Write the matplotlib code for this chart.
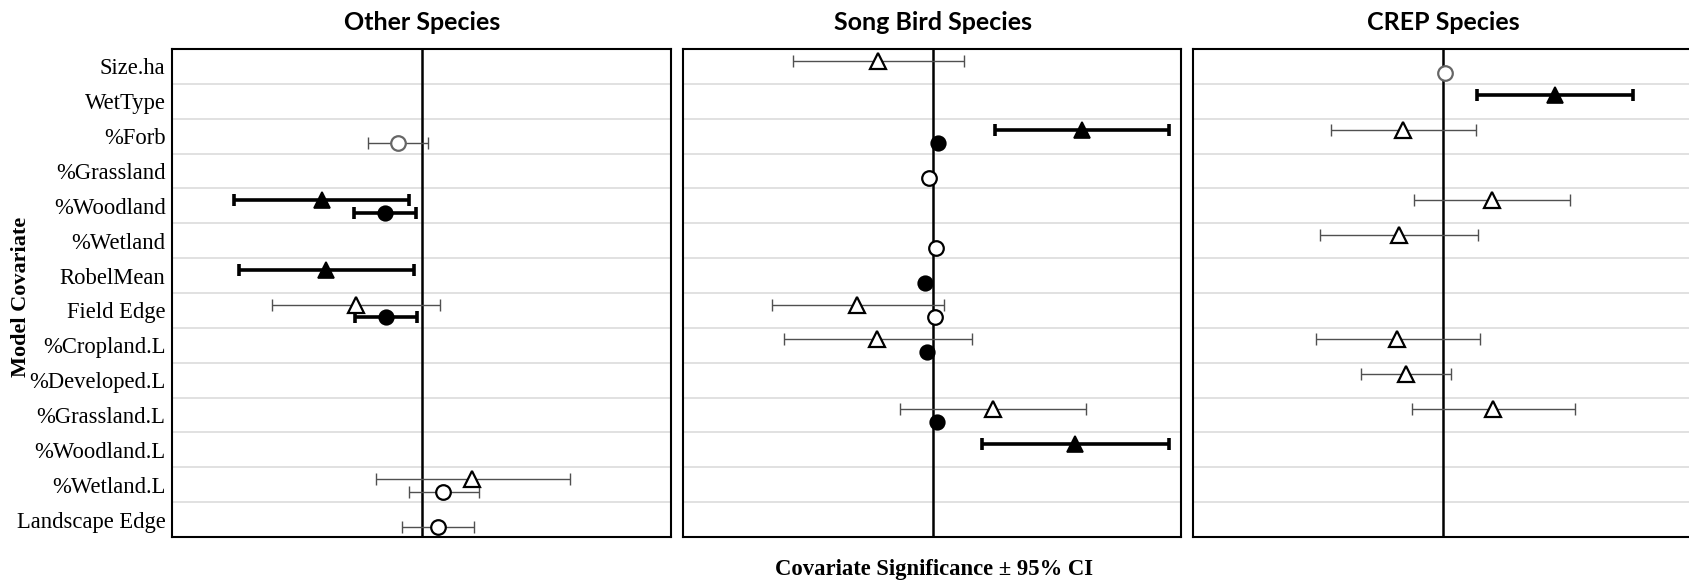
import matplotlib

matplotlib.use("Agg")
import matplotlib.pyplot as plt

covariates = [
    "Size.ha", "WetType", "%Forb", "%Grassland", "%Woodland", "%Wetland",
    "RobelMean", "Field Edge", "%Cropland.L", "%Developed.L", "%Grassland.L",
    "%Woodland.L", "%Wetland.L", "Landscape Edge",
]

# Other species
other_tri_rows = ["%Woodland", "RobelMean", "Field Edge", "%Wetland.L"]
other_tri_est = [-100, -96, -66, 50]
other_tri_lo = [-188, -183, -150, -46]
other_tri_hi = [-13, -8, 18, 148]
other_tri_sig = [True, True, False, False]

other_circ_rows = ["%Forb", "%Woodland", "Field Edge", "%Wetland.L", "Landscape Edge"]
other_circ_est = [-24, -37, -36, 21, 16]
other_circ_lo = [-54, -68, -67, -13, -20]
other_circ_hi = [6, -6, -5, 57, 52]
other_circ_sig = [False, True, True, False, False]

# Song bird species
song_tri_rows = ["Size.ha", "%Forb", "Field Edge", "%Cropland.L", "%Grassland.L", "%Woodland.L"]
song_tri_est = [-55, 149, -76, -56, 60, 142]
song_tri_lo = [-140, 62, -161, -149, -33, 49]
song_tri_hi = [31, 236, 11, 39, 153, 236]
song_tri_sig = [False, True, False, False, False, True]

song_circ_rows = ["%Forb", "%Grassland", "%Wetland", "RobelMean", "Field Edge",
                  "%Cropland.L", "%Grassland.L"]
song_circ_est = [5, -4, 3, -8, 2, -6, 4]
song_circ_lo = [5, -4, 3, -8, 2, -6, 4]
song_circ_hi = [5, -4, 3, -8, 2, -6, 4]
song_circ_sig = [True, False, False, True, False, True, True]

# CREP species
crep_tri_rows = ["WetType", "%Forb", "%Woodland", "%Wetland", "%Cropland.L",
                 "%Developed.L", "%Grassland.L"]
crep_tri_est = [112, -40, 49, -44, -46, -37, 50]
crep_tri_lo = [34, -112, -29, -123, -127, -82, -31]
crep_tri_hi = [190, 33, 127, 35, 37, 8, 132]
crep_tri_sig = [True, False, False, False, False, False, False]

crep_circ_rows = ["Size.ha"]
crep_circ_est = [2]
crep_circ_lo = [2]
crep_circ_hi = [2]
crep_circ_sig = [False]

SERIF = "Liberation Serif"
TITLE_FONT = "Lato"
# open circles drawn with a grey outline in the original
GREY_EDGE = {("Other Species", "%Forb"), ("CREP Species", "Size.ha")}


def draw_series(ax, panel, rows, est, lo, hi, sig, marker, offset, size):
    for name, e, l, h, s in zip(rows, est, lo, hi, sig):
        y = covariates.index(name) + offset
        if h > l:
            if s:
                ax.errorbar(e, y, xerr=[[e - l], [h - e]], fmt="none",
                            ecolor="black", elinewidth=2.6, capsize=4,
                            capthick=2.6, zorder=3)
            else:
                ax.errorbar(e, y, xerr=[[e - l], [h - e]], fmt="none",
                            ecolor="#505050", elinewidth=1.0, capsize=4,
                            capthick=1.0, zorder=3)
        if s:
            ax.plot(e, y, marker=marker, ms=size, mfc="black", mec="black",
                    mew=1.2, ls="none", zorder=4)
        else:
            edge = "#666666" if (panel, name) in GREY_EDGE else "black"
            ax.plot(e, y, marker=marker, ms=size, mfc="white", mec=edge,
                    mew=1.6, ls="none", zorder=4)


fig = plt.figure(figsize=(16.9, 5.85), dpi=100)

panels = [
    ("Other Species", 172.5, 499, (-250, 249),
     (other_tri_rows, other_tri_est, other_tri_lo, other_tri_hi, other_tri_sig),
     (other_circ_rows, other_circ_est, other_circ_lo, other_circ_hi, other_circ_sig)),
    ("Song Bird Species", 683, 498, (-250, 248),
     (song_tri_rows, song_tri_est, song_tri_lo, song_tri_hi, song_tri_sig),
     (song_circ_rows, song_circ_est, song_circ_lo, song_circ_hi, song_circ_sig)),
    ("CREP Species", 1193, 505, (-250, 255),
     (crep_tri_rows, crep_tri_est, crep_tri_lo, crep_tri_hi, crep_tri_sig),
     (crep_circ_rows, crep_circ_est, crep_circ_lo, crep_circ_hi, crep_circ_sig)),
]

W, H = 1690, 585
top, bottom = 49, 537
for i, (title, left, width, xlim, tri, circ) in enumerate(panels):
    ax = fig.add_axes([left / W, 1 - bottom / H, width / W, (bottom - top) / H])
    ax.set_xlim(*xlim)
    ax.set_ylim(len(covariates) - 0.5, -0.5)
    for k in range(len(covariates) - 1):
        ax.axhline(k + 0.5, color="#dcdcdc", lw=1.2, zorder=1)
    ax.axvline(0, color="black", lw=1.8, zorder=2)
    draw_series(ax, title, *tri, marker="^", offset=-0.17, size=11)
    draw_series(ax, title, *circ, marker="o", offset=0.2, size=10.5)
    ax.set_xticks([])
    ax.set_yticks(range(len(covariates)))
    if i == 0:
        ax.set_yticklabels(covariates, family=SERIF, fontsize=16.3)
        ax.tick_params(axis="y", length=0, pad=5)
    else:
        ax.set_yticklabels([])
        ax.tick_params(axis="y", length=0)
    for sp in ax.spines.values():
        sp.set_linewidth(1.5)
    x0 = left + (0 - xlim[0]) / (xlim[1] - xlim[0]) * width
    fig.text(x0 / W, 1 - 22 / H, title, ha="center", va="center",
             family=TITLE_FONT, fontweight="bold", fontsize=18)

fig.text(21 / W, 1 - 297 / H, "Model Covariate", rotation=90, ha="center",
         va="center", family=SERIF, fontweight="bold", fontsize=16)
fig.text(934 / W, 1 - 570 / H, "Covariate Significance \u00b1 95% CI",
         ha="center", va="center", family=SERIF, fontweight="bold", fontsize=16.3)

fig.savefig("out.png", dpi=100)
